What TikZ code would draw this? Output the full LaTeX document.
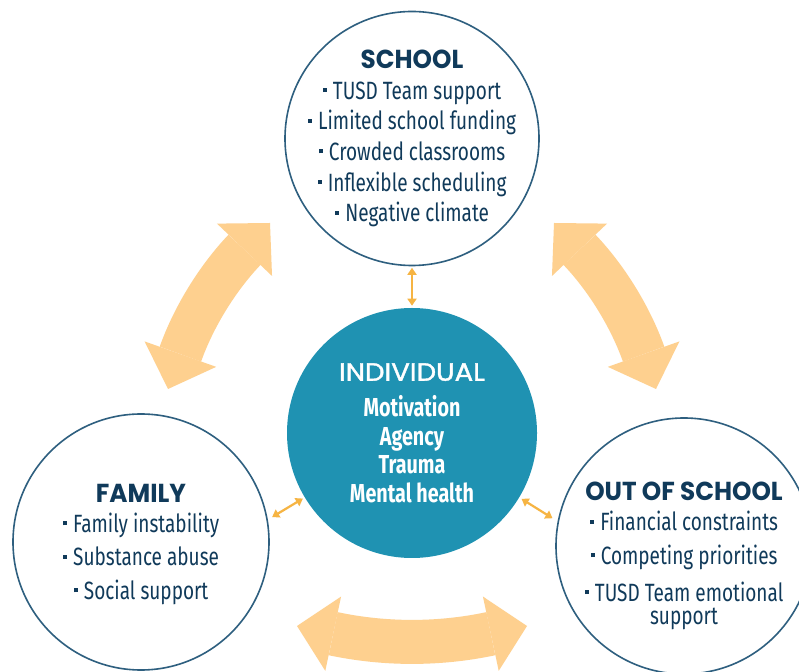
\documentclass[tikz,border=0pt]{standalone}
\usepackage{fontspec}
\setmainfont{Fira Sans}[FakeStretch=0.76]
\newfontfamily\headfont{Poppins}[FakeStretch=0.95]
\newfontfamily\headmid{Poppins}[FakeStretch=1.1, FakeBold=1.5]
\usetikzlibrary{positioning, arrows.meta}

\definecolor{navy}{HTML}{103A5A}
\definecolor{ringblue}{HTML}{2E5F7F}
\definecolor{indteal}{HTML}{1F92B2}
\definecolor{linkorange}{HTML}{F6B443}
\definecolor{wideorange}{HTML}{FED08F}

\newcommand{\sq}{\rule[0.28em]{0.16em}{0.16em}\hspace{0.25em}}
\newcommand{\hd}[1]{{\headfont\bfseries\fontsize{26}{26}\selectfont #1}}

\begin{document}
\begin{tikzpicture}[x=1pt, y=1pt,
       ring/.style = {circle, draw=ringblue, line width=1.6pt, fill=white,
                      minimum size=#1, inner sep=0pt},
        txt/.style = {align=center, text=navy, inner sep=0pt},
       link/.style = {{Triangle[width=9pt,length=7pt]}-{Triangle[width=9pt,length=7pt]},
                      draw=linkorange, line width=2.2pt},
       wide/.style = {{Triangle[width=76pt,length=37pt,line width'=0pt]}-{Triangle[width=76pt,length=37pt,line width'=0pt]},
                      draw=wideorange, line width=44pt}
                        ]
\useasboundingbox (0,0) rectangle (799,671);
\fill[white] (0,0) rectangle (799,671);
% wide arrows between the outer circles
\coordinate (lb) at (168,282);
\coordinate (lt) at (270,448);
\coordinate (rt) at (554,448);
\coordinate (rb) at (656,282);
\coordinate (bl) at (297,45);
\coordinate (br) at (527,45);
\draw[wide] (lb) to[bend left=12] (lt);
\draw[wide] (rt) to[bend left=12] (rb);
\draw[wide] (bl) to[bend right=12] (br);
% circles
\node (school) [ring=254pt] at (412,532.5) {};
\node (indiv) [ring=250pt, fill=indteal, draw=none] at (412,238) {};
\node (family) [ring=256pt] at (141,129) {};
\node (out) [ring=256pt] at (684,125) {};
% texts
\node (schooltxt) [txt, font=\fontsize{25}{30.7}\selectfont] at (school)
    {\hd{SCHOOL}\\ \sq TUSD Team support\\ \sq Limited school funding\\
     \sq Crowded classrooms\\ \sq Inflexible scheduling\\ \sq Negative climate};
\node (indivtxt) [txt, text=white, font=\fontsize{26}{28.5}\selectfont\bfseries] at (indiv)
    {{\headmid\mdseries\fontsize{25}{25}\selectfont INDIVIDUAL}\\[7.5pt]
     Motivation\\ Agency\\ Trauma\\ Mental health};
\node (familytxt) [txt, font=\fontsize{25}{30}\selectfont] at ([yshift=-2.5pt]family.center)
    {\hd{FAMILY}\\ \sq Family instability\\[3.5pt] \sq Substance abuse\\[3.5pt]
     \sq Social support};
\node (outtxt) [txt, font=\fontsize{25}{23.4}\selectfont] at ([yshift=-10pt]out.center)
    {\hd{OUT OF SCHOOL}\\[6.6pt] \sq Financial constraints\\[10pt]
     \sq Competing priorities\\[11pt] \sq TUSD Team emotional\\ support};
% links to the individual
\draw[link, shorten <=1.5pt, shorten >=1.5pt] (school) -- (indiv);
\draw[link, shorten <=5pt, shorten >=1.5pt] (family.10) -- (indiv.211);
\draw[link, shorten <=2pt, shorten >=6pt] (indiv.329) -- (out.169);
\end{tikzpicture}
\end{document}
